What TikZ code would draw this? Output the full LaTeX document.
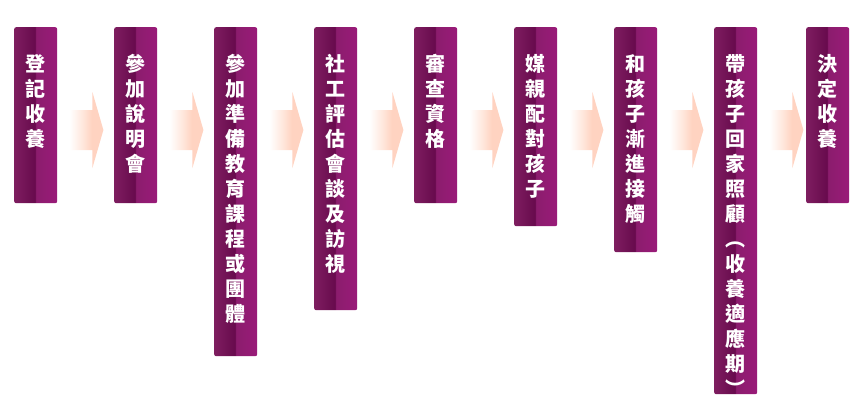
\documentclass[tikz,border=0pt]{standalone}
\usepackage{fontspec}
\newfontfamily\cjk{Noto Sans CJK TC}
\usetikzlibrary{calc}
\definecolor{bxl}{HTML}{7E1E60}
\definecolor{bxd}{HTML}{680A4D}
\definecolor{bxra}{HTML}{8B1C6D}
\definecolor{bxrb}{HTML}{9A1B79}
\definecolor{arw}{HTML}{FFD3C1}
\definecolor{arwm}{HTML}{FFE6DB}
\pgfdeclarehorizontalshading{boxshade}{100bp}{color(0bp)=(bxl); color(25bp)=(bxl); color(49bp)=(bxd); color(50.5bp)=(bxra); color(75bp)=(bxrb); color(100bp)=(bxrb)}
\pgfdeclarehorizontalshading{arrowshade}{100bp}{color(0bp)=(white); color(25bp)=(white); color(45bp)=(arwm); color(58bp)=(arw); color(75bp)=(arw); color(100bp)=(arw)}
\tikzset{
  stepbox/.style={shading=boxshade, rounded corners=2pt, inner sep=0pt, minimum width=43pt, anchor=north west},
  steptxt/.style={text=white, font=\cjk\bfseries\fontsize{20}{20}\selectfont, inner sep=0pt, text height=0.88em, text depth=0.12em},
  arrowshape/.style={shading=arrowshade}
}
\begin{document}
\begin{tikzpicture}[x=1pt,y=-1pt]
\useasboundingbox (0,0) rectangle (865,420);
\foreach \x/\h/\txt [count=\i] in {
  14/203/{登,記,收,養},
  114/203/{參,加,說,明,會},
  214/356/{參,加,準,備,教,育,課,程,或,團,體},
  314/310/{社,工,評,估,會,談,及,訪,視},
  414/203/{審,查,資,格},
  514/226/{媒,親,配,對,孩,子},
  614/252/{和,孩,子,漸,進,接,觸},
  714/394/{帶,孩,子,回,家,照,顧,︵,收,養,適,應,期,︶},
  806/203/{決,定,收,養}} {
  \pgfmathsetmacro{\hh}{\h-27}
  \node[stepbox, minimum height=\hh pt] (b\i) at (\x,27) {};
  \foreach \c [count=\j] in \txt {
    \node[steptxt] (t\i-\j) at ($(b\i.north)+(0,41+25*\j-25)$) {\c};
  }
}
\foreach \i in {1,...,8} {
  \coordinate (a\i) at ($(b\i.east |- 0,130)+(46,0)$);
  \shade[arrowshape] ($(a\i)+(-34,-20)$) -- ($(a\i)+(-11,-20)$) -- ($(a\i)+(-11,-38)$) -- (a\i) -- ($(a\i)+(-11,38)$) -- ($(a\i)+(-11,20)$) -- ($(a\i)+(-34,20)$) -- cycle;
}
\end{tikzpicture}
\end{document}
